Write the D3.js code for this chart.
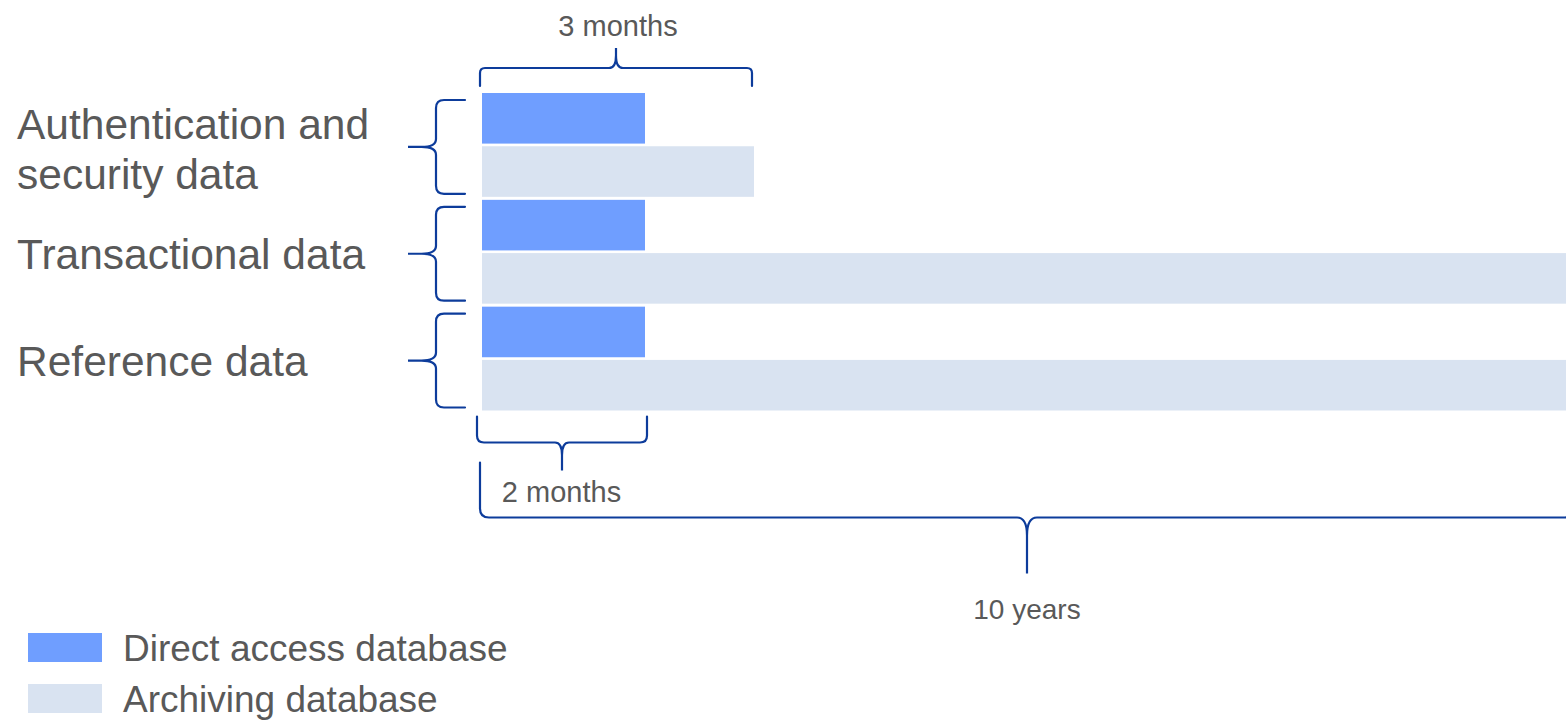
<!DOCTYPE html>
<html>
<head>
<meta charset="utf-8">
<script src="https://cdn.jsdelivr.net/npm/d3@7"></script>
<style>
  body { margin: 0; background: #fff; }
  text { font-family: "Liberation Sans", Arial, sans-serif; fill: #595959; }
</style>
</head>
<body>
<div id="retention_chart"></div>
<script>
// data (months)
const categories = ["Authentication and security data", "Transactional data", "Reference data"];
const categoryLines = [["Authentication and", "security data"], ["Transactional data"], ["Reference data"]];
const series = ["Direct access database", "Archiving database"];
const directMonths = [2, 2, 2];
const archiveMonths = [3, 120, 120];
const spanLabels = ["3 months", "2 months", "10 years"];
const colors = ["#6f9eff", "#d9e3f1"];

document.addEventListener('DOMContentLoaded', function () {
    const data = categories.map((c, i) => ({
        Category: c,
        Lines: categoryLines[i],
        values: [directMonths[i], archiveMonths[i]]
    }));
    chart(d3, data);

    function chart(d3, data) {
        const width = 1566;
        const height = 724;
        const braceColor = "#0d3c9b";

        // months are not on a linear axis in the original: piecewise scale
        const x = d3.scaleLinear()
            .domain([0, 2, 3, 120])
            .range([482, 645, 754, 1566]);

        const y0 = d3.scaleBand()
            .domain(categories)
            .range([93, 410.5])
            .paddingInner(0.028);

        const y1 = d3.scaleBand()
            .domain(series)
            .range([0, y0.bandwidth()])
            .paddingInner(0.05);

        const svg = d3.create("svg")
            .attr("viewBox", [0, 0, width, height])
            .attr("width", width)
            .attr("height", height);

        // bars
        const groups = svg.append("g")
            .attr("class", "bars")
            .selectAll("g")
            .data(data)
            .join("g")
            .attr("transform", d => `translate(0,${y0(d.Category)})`);

        groups.selectAll("rect")
            .data(d => d.values.map((v, k) => ({ key: series[k], value: v, k })))
            .join("rect")
            .attr("x", x(0))
            .attr("y", d => y1(d.key))
            .attr("width", d => x(d.value) - x(0))
            .attr("height", y1.bandwidth())
            .attr("fill", d => colors[d.k]);

        // category labels
        svg.append("g")
            .selectAll("text")
            .data(data)
            .join("text")
            .attr("x", 17)
            .attr("y", d => y0(d.Category) + y0.bandwidth() / 2 + 17 - (d.Lines.length - 1) * 23)
            .style("font-size", "42.5px")
            .selectAll("tspan")
            .data(d => d.Lines)
            .join("tspan")
            .attr("x", 17)
            .attr("dy", (d, i) => i === 0 ? 0 : 50)
            .text(d => d);

        // curly brace in local coords: u along the brace, v towards the tip
        function bracePath(len, h, d, r, c) {
            const m = len / 2;
            return `M0,0 L0,${h - r} Q0,${h} ${r},${h}` +
                ` L${m - c},${h} Q${m},${h} ${m},${h + c * 1.8} L${m},${d}` +
                ` L${m},${h + c * 1.8} Q${m},${h} ${m + c},${h}` +
                ` L${len - r},${h} Q${len},${h} ${len},${h - r} L${len},0`;
        }

        const braces = svg.append("g")
            .attr("fill", "none")
            .attr("stroke", braceColor)
            .attr("stroke-width", 2.2)
            .attr("stroke-linecap", "round");

        // left braces, one per category
        braces.selectAll("path.group")
            .data(data)
            .join("path")
            .attr("class", "group")
            .attr("transform", d => `translate(465,${y0(d.Category) + 7}) rotate(90)`)
            .attr("d", bracePath(y0.bandwidth() - 10, 29, 57, 8, 8));

        // top brace: archive of the first category (3 months)
        const topY = y0(categories[0]) - 7;
        braces.append("path")
            .attr("transform", `translate(${x(0) - 2},${topY}) scale(1,-1)`)
            .attr("d", bracePath(x(archiveMonths[0]) - x(0), 18, 38, 5, 7));
        svg.append("text")
            .attr("x", (x(0) + x(archiveMonths[0])) / 2)
            .attr("y", topY - 50)
            .attr("text-anchor", "middle")
            .style("font-size", "29px")
            .text(spanLabels[0]);

        // small brace under the bars: direct access (2 months)
        const botY = y0.range()[1] + 6;
        braces.append("path")
            .attr("transform", `translate(${x(0) - 5},${botY})`)
            .attr("d", bracePath(x(directMonths[0]) - x(0) + 7, 26, 54, 7, 7));
        svg.append("text")
            .attr("x", (x(0) + x(directMonths[0])) / 2 - 2)
            .attr("y", botY + 85)
            .attr("text-anchor", "middle")
            .style("font-size", "29px")
            .text(spanLabels[1]);

        // big brace: archive (10 years)
        const bigY = botY + 46;
        const bigLen = x(archiveMonths[1]) - x(0) + 10;
        braces.append("path")
            .attr("transform", `translate(${x(0) - 2},${bigY})`)
            .attr("d", bracePath(bigLen, 55, 111, 9, 10));
        svg.append("text")
            .attr("x", x(0) - 2 + bigLen / 2)
            .attr("y", bigY + 156)
            .attr("text-anchor", "middle")
            .style("font-size", "28px")
            .text(spanLabels[2]);

        // legend
        const legend = svg.append("g")
            .selectAll("g")
            .data(series)
            .join("g")
            .attr("transform", (d, i) => `translate(28,${633 + i * 51})`);
        legend.append("rect")
            .attr("width", 74)
            .attr("height", 29)
            .attr("fill", (d, i) => colors[i]);
        legend.append("text")
            .attr("x", 95)
            .attr("y", 28)
            .style("font-size", "37px")
            .text(d => d);

        document.getElementById("retention_chart").appendChild(svg.node());
        return svg.node();
    }
});
</script>
</body>
</html>
